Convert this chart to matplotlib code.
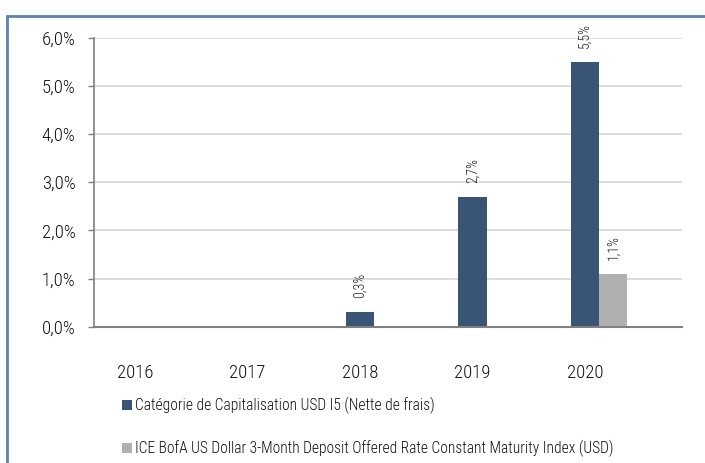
import matplotlib
matplotlib.use("Agg")
import matplotlib.pyplot as plt
from matplotlib.patches import Rectangle
import numpy as np

years = ["2016", "2017", "2018", "2019", "2020"]
fund = [np.nan, np.nan, 0.3, 2.7, 5.5]
index = [np.nan, np.nan, np.nan, np.nan, 1.1]
fund_label = "Catégorie de Capitalisation USD I5 (Nette de frais)"
index_label = "ICE BofA US Dollar 3-Month Deposit Offered Rate Constant Maturity Index (USD)"
yticks = [0, 1, 2, 3, 4, 5, 6]

dark = "#3a5475"
grey = "#b0b0b0"

plt.rcParams['font.family'] = ['Roboto Condensed', 'DejaVu Sans']
plt.rcParams['font.weight'] = 'light'

fig = plt.figure(figsize=(7.05, 4.63), dpi=100)

# outer blue frame, open on the right and bottom
fig.patches.append(Rectangle((7 / 705, -0.05), 1.1, (463 - 16) / 463 + 0.05,
                             transform=fig.transFigure, fill=False,
                             edgecolor="#5b82ac", linewidth=2))

ax = fig.add_axes([94 / 705, 1 - 326.7 / 463, 588 / 705, (326.7 - 37.7) / 463])

x = np.arange(len(years))
w = 0.25
b1 = ax.bar(x, fund, w, color=dark, label=fund_label)
b2 = ax.bar(x + w, index, w, color=grey, label=index_label)

for bars, vals in ((b1, fund), (b2, index)):
    for rect, v in zip(bars, vals):
        if np.isnan(v):
            continue
        ax.annotate(("%.1f%%" % v).replace(".", ","),
                    (rect.get_x() + rect.get_width() / 2, v),
                    xytext=(0, 10), textcoords="offset points", rotation=90,
                    ha="center", va="bottom", fontsize=10, color="#222222")

ax.set_xlim(-0.364, 4.862)
ax.set_ylim(0, 6)
ax.set_yticks(yticks)
ax.set_yticklabels([("%.1f%%" % t).replace(".", ",") for t in yticks])
ax.set_xticks(x)
ax.set_xticklabels(years)
ax.tick_params(axis="x", length=0, pad=27, labelsize=13.5, colors="#111111")
ax.tick_params(axis="y", length=4.3, width=1, color="#808080", labelsize=13.5,
               labelcolor="#111111", pad=9)
ax.grid(axis="y", color="#d9d9d9", linewidth=1.3)
ax.set_axisbelow(True)
for s in ("top", "right"):
    ax.spines[s].set_visible(False)
ax.spines["left"].set_color("#808080")
ax.spines["bottom"].set_color("#808080")
ax.spines["left"].set_linewidth(1.2)
ax.spines["bottom"].set_linewidth(1.5)

fig.legend(handles=[b1, b2], loc="upper left",
           bbox_to_anchor=(121.7 / 705, 1 - 397 / 463), frameon=False,
           fontsize=11.2, handlelength=0.65, handleheight=0.65,
           handletextpad=0.2, labelspacing=1.65, borderaxespad=0,
           borderpad=0, labelcolor="#111111")

fig.savefig("out.png", dpi=100)
